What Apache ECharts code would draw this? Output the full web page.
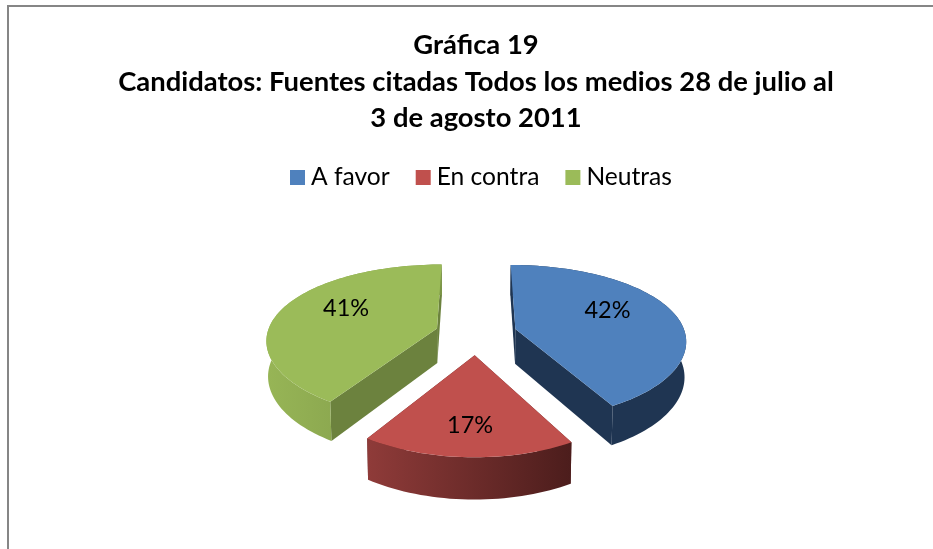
<!DOCTYPE html>
<html>
	<head>
		<meta charset="utf-8">
		<title>Gráfica 19</title>
		<script src="https://cdn.jsdelivr.net/npm/echarts@6/dist/echarts.min.js"></script>
		<style>
			html, body { margin: 0; padding: 0; background: #fff; overflow: hidden; }
			#frame { position: absolute; left: 7px; top: 5px; right: 0; bottom: 0; border-left: 2px solid #868686; border-top: 2px solid #868686; }
			#box { position: absolute; left: 0; top: 0; width: 933px; height: 549px; }
		</style>
	</head>
	<body>
		<div id="frame"></div>
		<div id="box"></div>
		<script>
			var categories = ['A favor', 'En contra', 'Neutras']
			var percents = [42, 17, 41]
			var titleLines = ['Gráfica 19', 'Candidatos: Fuentes citadas Todos los medios 28 de julio al', '3 de agosto 2011']

			var topColors = ['#4F81BD', '#C0504D', '#9BBB59']
			var faceColors = ['#1F3552', '#5E2624', '#6C823E']
			var wallStops = [
				['#1F3552', '#1F3552'],
				['#8F3B39', '#4C1D1C'],
				['#97B556', '#7B9546']
			]
			// where the percent text sits inside each slice
			var labelSpots = [
				{ f: 0.58, dy: -8 },
				{ f: 0.72, dy: 1 },
				{ f: 0.58, dy: -8 }
			]

			var mCharts = echarts.init(document.querySelector('#box'))

			// pie lying on the floor, seen in perspective
			var vx = 476, cy = 334, R = 170, explode = 41, depth = 35
			var total = percents.reduce(function (a, b) { return a + b }, 0)

			function sx(v) { return 1 / (1 - 0.0008 * v) }
			function sy(v) { return 1 / (1 - 0.001 * v) }
			function project(u, v) {
				return [vx + u * sx(v), cy + 450 * (sy(v) - 1)]
			}
			function lower(p, v) {
				return [vx + (p[0] - vx) * 0.992, p[1] + depth * sx(v)]
			}

			function renderSlice(params, api) {
				var i = params.seriesIndex
				var before = percents.slice(0, i).reduce(function (a, b) { return a + b }, 0)
				var a0 = before / total * Math.PI * 2
				var a1 = (before + api.value(0)) / total * Math.PI * 2
				var mid = (a0 + a1) / 2
				var ou = explode * Math.sin(mid), ov = -explode * 1.1 * Math.cos(mid)

				function ground(a, r) {
					return [ou + r * Math.sin(a), ov - r * Math.cos(a)]
				}
				var topArc = [], lowArc = []
				var n = Math.ceil((a1 - a0) / 0.03)
				for (var k = 0; k <= n; k++) {
					var g = ground(a0 + (a1 - a0) * k / n, R)
					var p = project(g[0], g[1])
					topArc.push(p)
					lowArc.push(lower(p, g[1]))
				}
				var apex = project(ou, ov)
				var apexLow = lower(apex, ov)
				var last = topArc.length - 1

				var spot = labelSpots[i]
				var lg = ground(mid, R * spot.f)
				var lp = project(lg[0], lg[1])

				return {
					type: 'group',
					children: [
						{ type: 'polygon', shape: { points: [apex, topArc[0], lowArc[0], apexLow] }, style: { fill: faceColors[i] } },
						{ type: 'polygon', shape: { points: [apex, topArc[last], lowArc[last], apexLow] }, style: { fill: faceColors[i] } },
						{
							type: 'polygon',
							shape: { points: topArc.concat(lowArc.slice().reverse()) },
							style: {
								fill: new echarts.graphic.LinearGradient(0, 0, 1, 0, [
									{ offset: 0, color: wallStops[i][0] },
									{ offset: 1, color: wallStops[i][1] }
								])
							}
						},
						{ type: 'polygon', shape: { points: [apex].concat(topArc) }, style: { fill: topColors[i] } },
						{
							type: 'text',
							style: {
								text: api.value(0) + '%',
								x: lp[0],
								y: lp[1] + spot.dy,
								align: 'center',
								verticalAlign: 'middle',
								fill: '#000',
								font: '23.5px Lato'
							}
						}
					]
				}
			}

			var option = {
				animation: false,
				title: {
					text: titleLines.join('\n'),
					left: 471,
					top: 22,
					textAlign: 'center',
					textStyle: {
						fontFamily: 'Lato',
						fontWeight: 'bold',
						fontSize: 27.4,
						lineHeight: 36.5,
						color: '#000'
					}
				},
				legend: {
					data: categories,
					left: 285,
					top: 160,
					itemWidth: 15,
					itemHeight: 15,
					itemGap: 26,
					icon: 'rect',
					textStyle: { fontFamily: 'Lato', fontSize: 24.6, color: '#000', padding: [0, 0, 0, 1] }
				},
				series: categories.map(function (name, i) {
					return {
						type: 'custom',
						name: name,
						coordinateSystem: 'none',
						color: topColors[i],
						renderItem: renderSlice,
						data: [[percents[i]]]
					}
				})
			}
			mCharts.setOption(option)
		</script>
	</body>
</html>
